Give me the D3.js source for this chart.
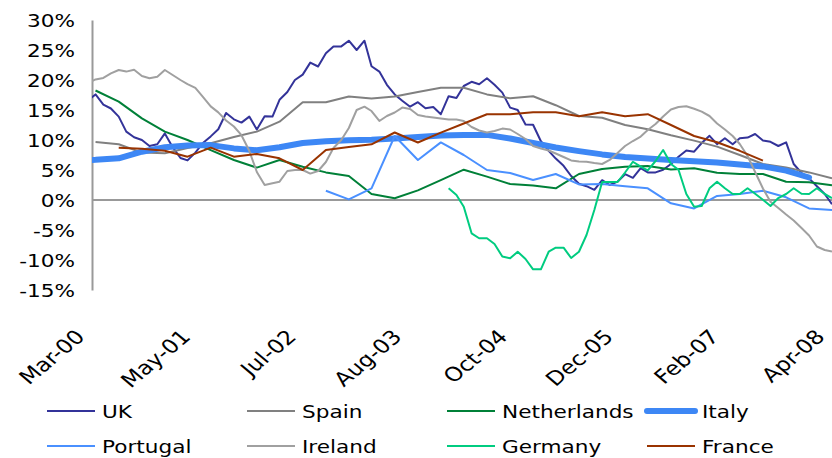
<!DOCTYPE html>
<html>
<head>
<meta charset="utf-8">
<script src="https://cdn.jsdelivr.net/npm/d3@7"></script>
<style>
  body { margin: 0; background: #fff; }
  svg text { font-family: "DejaVu Sans", Verdana, sans-serif; font-size: 18px; fill: #000; }
</style>
</head>
<body>
<div id="chart"></div>
<script>
// axis labels
var tickLabels = ["Mar-00", "May-01", "Jul-02", "Aug-03", "Oct-04", "Dec-05", "Feb-07", "Apr-08"];
var yTicks = [-15, -10, -5, 0, 5, 10, 15, 20, 25, 30];

// monthly from Feb-00
var ukValues = [16.6, 17.6, 15.9, 15.25, 13.9, 11.4, 10.45, 10.0, 9.0, 9.3, 11.1, 8.8, 7.0, 6.6, 7.9, 9.5,
  10.6, 11.8, 14.5, 13.45, 12.9, 13.9, 11.75, 13.95, 13.9, 16.7, 18.0, 20.0, 20.9, 22.9, 22.25, 24.45,
  25.6, 25.6, 26.55, 25.0, 26.55, 22.3, 21.4, 19.2, 17.6, 16.55, 15.55, 16.3, 15.3, 15.5, 14.3, 17.3,
  17.0, 19.0, 19.7, 19.3, 20.3, 19.2, 17.9, 15.4, 15.0, 12.6, 12.55, 9.8, 8.2, 6.9, 5.7, 4.0, 2.7, 2.3,
  1.7, 3.3, 2.5, 3.05, 4.3, 3.7, 5.3, 4.6, 4.6, 5.05, 6.0, 7.2, 8.25, 8.05, 9.5, 10.7, 9.3, 10.3, 9.3,
  10.3, 10.4, 11.0, 9.9, 9.7, 9.0, 9.6, 6.0, 4.5, 3.6, 2.3, 1.0, -0.7];
// quarterly from Mar-00
var spainValues = [9.67, 9.3, 7.9, 7.8, 8.67, 9.45, 10.5, 11.4, 13.05, 16.3, 16.3, 17.25, 16.9, 17.25,
  18.0, 18.7, 18.7, 17.6, 16.95, 17.3, 15.8, 14.0, 13.7, 12.5, 11.8, 10.8, 9.9, 8.9, 7.5, 6.0, 5.4, 4.6, 3.6];
// quarterly from Mar-00
var netherlandsValues = [18.25, 16.4, 13.6, 11.4, 10.0, 8.3, 6.67, 5.4, 6.67, 5.55, 4.6, 4.0, 1.0, 0.3,
  1.6, 3.3, 5.05, 3.9, 2.67, 2.4, 1.95, 4.33, 5.17, 5.55, 5.67, 5.1, 5.3, 4.55, 4.33, 4.33, 3.05, 2.95, 2.45];
// quarterly from Dec-99
var italyValues = [6.6, 6.7, 6.95, 8.05, 8.8, 9.1, 9.15, 8.6, 8.3, 8.8, 9.5, 9.8, 9.95, 10.05, 10.25,
  10.5, 10.75, 10.85, 10.85, 10.25, 9.5, 8.75, 8.15, 7.6, 7.15, 6.9, 6.65, 6.45, 6.25, 5.9, 5.6, 4.9, 3.75];
// quarterly from Sep-02
var portugalValues = [1.55, 0.1, 1.95, 10.67, 6.67, 9.6, 7.5, 5.0, 4.5, 3.33, 4.33, 2.6, 2.67, 2.3, 1.95,
  -0.55, -1.4, 0.67, 1.0, 1.55, 0.45, -1.4, -1.67];
// monthly from Feb-00
var irelandValues = [19.5, 20.1, 20.35, 21.1, 21.67, 21.4, 21.7, 20.67, 20.3, 20.55, 21.67, 20.83, 20.0,
  19.33, 18.67, 17.17, 15.6, 14.6, 13.25, 12.25, 10.8, 8.2, 4.67, 2.5, 2.8, 3.05, 4.83, 5.0, 5.0, 4.4,
  4.83, 6.33, 8.67, 10.0, 12.0, 15.0, 15.55, 14.83, 13.17, 14.0, 14.58, 15.4, 15.17, 14.17, 13.92,
  13.75, 13.58, 13.42, 13.42, 13.17, 12.17, 11.58, 11.25, 11.5, 11.9, 11.75, 11.0, 10.17, 9.0, 8.58,
  8.25, 7.75, 7.17, 6.6, 6.42, 6.38, 6.17, 6.0, 6.67, 7.83, 9.0, 9.83, 10.58, 11.67, 12.67, 13.92,
  15.08, 15.5, 15.62, 15.2, 14.72, 14.0, 12.75, 11.75, 10.67, 9.33, 7.33, 4.67, 1.92, -0.28, -1.33,
  -2.42, -3.42, -4.67, -5.92, -7.75, -8.33, -8.6];
// monthly from Jan-04
var germanyValues = [1.95, 0.83, -1.12, -5.55, -6.38, -6.38, -7.33, -9.42, -9.72, -8.62, -9.83, -11.55,
  -11.55, -8.62, -7.95, -7.95, -9.67, -8.62, -5.83, -1.67, 3.0, 3.0, 3.0, 4.58, 6.38, 5.55, 4.92, 6.5,
  8.33, 6.0, 5.05, 1.0, -1.12, -1.0, 1.95, 3.05, 1.95, 1.0, 1.0, 1.95, 1.05, 0.05, -1.0, 0.33, 1.0,
  1.95, 1.05, 1.0, 1.95, 1.0, 0.33];
// quarterly from Jun-00
var franceValues = [8.72, 8.55, 8.22, 7.22, 8.72, 7.22, 7.67, 6.95, 5.0, 8.33, 8.83, 9.28, 11.25, 9.58,
  11.22, 12.75, 14.3, 14.3, 14.62, 14.62, 13.95, 14.62, 13.95, 14.3, 12.5, 10.67, 9.63, 8.2, 6.55];

var series = [
  {name: "UK",          values: ukValues,          start: [2000, 2],  step: 1, color: "#333399", width: 2},
  {name: "Spain",       values: spainValues,       start: [2000, 3],  step: 3, color: "#808080", width: 2},
  {name: "Netherlands", values: netherlandsValues, start: [2000, 3],  step: 3, color: "#008038", width: 2},
  {name: "Italy",       values: italyValues,       start: [1999, 12], step: 3, color: "#3d87f5", width: 6},
  {name: "Portugal",    values: portugalValues,    start: [2002, 9],  step: 3, color: "#4a90ff", width: 2},
  {name: "Ireland",     values: irelandValues,     start: [2000, 2],  step: 1, color: "#a0a0a0", width: 2},
  {name: "Germany",     values: germanyValues,     start: [2004, 1],  step: 1, color: "#00cc80", width: 2},
  {name: "France",      values: franceValues,      start: [2000, 6],  step: 3, color: "#993300", width: 2}
];

var width = 832, height = 458;
var plotLeft = 92, plotRight = 832, plotTop = 20, plotBottom = 290;
var sx = 1.2; // the original picture is stretched sideways

var svg = d3.select("#chart").append("svg")
  .attr("width", width)
  .attr("height", height);

var x = d3.scaleTime()
  .domain([new Date(2000, 2, 1), new Date(2008, 2, 15)])
  .range([plotLeft, plotRight]);

var y = d3.scaleLinear()
  .domain([-15, 30])
  .range([plotBottom, plotTop]);

var xLab = d3.scalePoint()
  .domain(tickLabels)
  .range([plotLeft, plotRight]);

svg.append("clipPath").attr("id", "plot-clip")
  .append("rect")
  .attr("x", plotLeft).attr("y", 0)
  .attr("width", plotRight - plotLeft).attr("height", height);

// y axis
var yAxis = svg.append("g")
  .attr("class", "axis axis--y")
  .attr("transform", "translate(" + plotLeft + ",0)")
  .call(d3.axisLeft(y).tickValues(yTicks).tickSize(0).tickFormat(function(d){ return d + "%"; }));
yAxis.select(".domain").attr("stroke", "#999").attr("stroke-width", 2);
yAxis.selectAll("text")
  .attr("x", -17 / sx)
  .attr("dy", "0.36em")
  .attr("transform", "scale(" + sx + ",1)")
  .attr("fill", "#000")
  .style("font-size", "18px")
  .style("font-family", "'DejaVu Sans', Verdana, sans-serif");

// zero line
svg.append("line")
  .attr("x1", plotLeft).attr("x2", plotRight)
  .attr("y1", y(0)).attr("y2", y(0))
  .attr("stroke", "#999")
  .attr("stroke-width", 2);

// x labels
svg.selectAll(".x-label")
  .data(tickLabels)
  .enter().append("text")
  .attr("class", "x-label")
  .attr("text-anchor", "end")
  .style("font-size", "19.5px")
  .attr("transform", function(d){
    return "translate(" + (xLab(d) - 6) + ",338) scale(" + sx + ",1) rotate(-45)";
  })
  .text(function(d){ return d; });

var line = d3.line()
  .x(function(d){ return x(d.date); })
  .y(function(d){ return y(d.value); });

var plot = svg.append("g").attr("clip-path", "url(#plot-clip)");

series.forEach(function(s){
  var pts = s.values.map(function(v, k){
    return {date: new Date(s.start[0], s.start[1] - 1 + k * s.step, 15), value: v};
  });
  plot.append("path")
    .datum(pts)
    .attr("fill", "none")
    .attr("stroke", s.color)
    .attr("stroke-width", s.width)
    .attr("stroke-linejoin", "round")
    .attr("stroke-linecap", s.width > 3 ? "round" : "butt")
    .attr("d", line);
});

// legend, 4 per row
var legend = svg.selectAll(".legend")
  .data(series)
  .enter().append("g")
  .attr("class", "legend")
  .attr("transform", function(d, i){
    return "translate(" + (47 + (i % 4) * 200) + "," + (411 + Math.floor(i / 4) * 35) + ")";
  });

legend.append("line")
  .attr("x1", 0).attr("x2", 48)
  .attr("y1", 0).attr("y2", 0)
  .attr("stroke", function(d){ return d.color; })
  .attr("stroke-width", function(d){ return d.width > 3 ? 6 : 2; })
  .attr("stroke-linecap", function(d){ return d.width > 3 ? "round" : "butt"; });

legend.append("text")
  .attr("transform", "translate(55,7) scale(" + sx + ",1)")
  .text(function(d){ return d.name; });
</script>
</body>
</html>
